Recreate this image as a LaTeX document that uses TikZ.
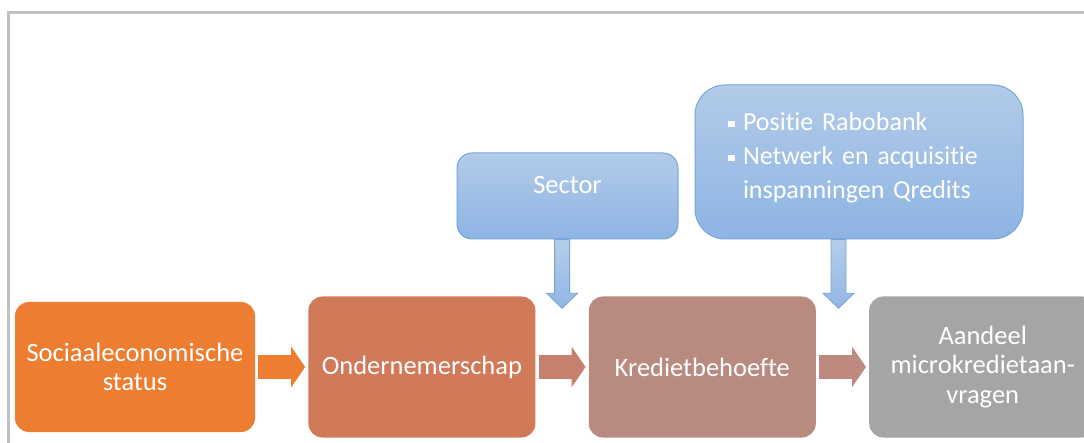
\documentclass[tikz,border=0pt]{standalone}
\usepackage{fontspec}
\setmainfont[Ligatures=NoCommon]{Carlito}
\usetikzlibrary{arrows.meta,positioning,calc}

\definecolor{socorange}{HTML}{ED7D31}
\definecolor{ondred}{HTML}{D17A5A}
\definecolor{krdbrown}{HTML}{B98A80}
\definecolor{aangray}{HTML}{A5A5A5}
\definecolor{arrowtwo}{HTML}{C8806E}
\definecolor{arrowthree}{HTML}{BE8A80}
\definecolor{bluetop}{HTML}{B2CBE9}
\definecolor{bluebot}{HTML}{8EB4E3}
\definecolor{blueline}{HTML}{74A5DB}
\definecolor{framegray}{HTML}{C0C0C0}

\newcommand{\sqbullet}{\makebox[15pt][l]{\rule[3pt]{6.5pt}{6.5pt}}}

\begin{document}
\begin{tikzpicture}[
    x=1pt, y=-1pt,
    font=\fontsize{26.5}{29.5}\selectfont,
    node distance=8mm and 53pt,
    % node styles
    stage/.style   = {rounded corners=14pt, text=white, align=center,
                      minimum width=227pt, minimum height=141pt, inner sep=2pt},
    factor/.style  = {draw=blueline, line width=1pt, top color=bluetop,
                      bottom color=bluebot, text=white, inner sep=2pt},
    % connectors
    harrow/.style  = {line width=24pt, shorten <=3pt, shorten >=3pt,
                      -{Triangle[length=14pt,width=40pt]}},
    varrow/.style  = {draw=blueline, line width=0.8pt, top color=bluetop!95!white,
                      bottom color=bluebot!90!bluetop},
    frame/.style   = {draw=framegray, line width=3pt}
  ]

\useasboundingbox (0,0) rectangle (1084,443);

% outer frame
\draw[frame] (8,443) |- (1084,13);

% ============================================================
% main chain (left to right)
% ============================================================
\node[stage, fill=socorange, minimum width=240pt, minimum height=130pt]
  (soc) at (135,367) {Sociaaleconomische\\status};
\node[stage, fill=ondred, right=53pt of soc] (ond) {Ondernemerschap};
\node[stage, fill=krdbrown, right=53pt of ond] (krd) {Kredietbehoefte};
\node[stage, fill=aangray, right=53pt of krd] (aan)
  {Aandeel\\microkredietaan-\\vragen};

\draw[harrow, socorange]  (soc) -- (ond);
\draw[harrow, arrowtwo]   (ond) -- (krd);
\draw[harrow, arrowthree] (krd) -- (aan);

% ============================================================
% influencing factors (top)
% ============================================================
\node[factor, rounded corners=15pt, minimum width=221pt, minimum height=86pt,
      text depth=22pt] (sector) at (567.5,196) {Sector};
\node[factor, rounded corners=30pt, minimum width=328pt, minimum height=154pt,
      text width=262pt, align=left, text depth=82pt,
      font=\fontsize{26}{34}\selectfont]
  (rabo) at (859,162)
  {\sqbullet Positie Rabobank\\
   \sqbullet Netwerk en acquisitie\\
   \hspace*{15pt}inspanningen Qredits};

% arrow end points in the gaps between the stages
\coordinate (g1) at ($(ond.east)!0.5!(krd.west)$);
\coordinate (g2) at ($(krd.east)!0.5!(aan.west)+(-4,0)$);
\coordinate (s1) at (sector.south -| g1);
\coordinate (s2) at (rabo.south -| g2);
\coordinate (t1) at ($(g1 |- krd.north)+(0,12)$);
\coordinate (t2) at ($(g2 |- aan.north)+(0,12)$);

\draw[varrow] ($(s1)+(-7.5,0)$) -- ($(t1)+(-7.5,-15)$) -- ($(t1)+(-15.5,-15)$)
  -- (t1) -- ($(t1)+(15.5,-15)$) -- ($(t1)+(7.5,-15)$) -- ($(s1)+(7.5,0)$) -- cycle;
\draw[varrow] ($(s2)+(-7.5,0)$) -- ($(t2)+(-7.5,-15)$) -- ($(t2)+(-15.5,-15)$)
  -- (t2) -- ($(t2)+(15.5,-15)$) -- ($(t2)+(7.5,-15)$) -- ($(s2)+(7.5,0)$) -- cycle;

\end{tikzpicture}
\end{document}
